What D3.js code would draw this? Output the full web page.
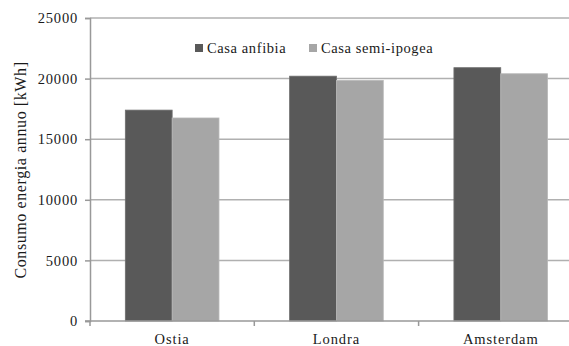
<!DOCTYPE html>
<html>
<head>
<meta charset="utf-8">
<script src="https://cdn.jsdelivr.net/npm/d3@7"></script>
<style>
  html, body { margin: 0; padding: 0; background: #fff; }
  svg { display: block; }
  svg text { font-family: "Liberation Serif", "DejaVu Serif", serif !important; fill: #1a1a1a; }
</style>
</head>
<body>
<svg id="chart" width="569" height="346" font-family="Liberation Serif"></svg>
<script>
const cities = ["Ostia", "Londra", "Amsterdam"];
const seriesNames = ["Casa anfibia", "Casa semi-ipogea"];
const anfibia = [17400, 20200, 20900];
const semiIpogea = [16750, 19850, 20400];
const yTicks = [0, 5000, 10000, 15000, 20000, 25000];
const colors = ["#595959", "#a6a6a6"];

const svg = d3.select("#chart");
const margin = { left: 90, top: 18, bottom: 25 };
const height = 346;
const bandW = 164.3;
const serif = "'Liberation Serif', 'DejaVu Serif', serif";

const x = d3.scaleBand()
  .domain(cities)
  .range([margin.left, margin.left + bandW * cities.length])
  .paddingInner(0.43).paddingOuter(0.215);

const x1 = d3.scaleBand().domain(seriesNames).range([0, x.bandwidth()]);

const y = d3.scaleLinear().domain([0, 25000]).range([height - margin.bottom, margin.top]);

// horizontal gridlines
svg.append("g").selectAll("line")
  .data(yTicks.filter(d => d > 0))
  .join("line")
  .attr("x1", margin.left).attr("x2", 569)
  .attr("y1", d => y(d)).attr("y2", d => y(d))
  .attr("stroke", "#b0b0b0").attr("stroke-width", 1.5);

// bars
const rows = cities.map((c, i) => ({ city: c, values: [anfibia[i], semiIpogea[i]] }));
svg.append("g").selectAll("g")
  .data(rows)
  .join("g")
  .attr("transform", d => `translate(${x(d.city)},0)`)
  .selectAll("rect")
  .data(d => d.values.map((v, j) => ({ key: seriesNames[j], v, j })))
  .join("rect")
  .attr("x", d => x1(d.key))
  .attr("width", x1.bandwidth())
  .attr("y", d => y(d.v))
  .attr("height", d => y(0) - y(d.v))
  .attr("fill", d => colors[d.j])
  .attr("stroke", d => d.j === 0 ? "#6e6e6e" : "#b8b8b8")
  .attr("stroke-width", 0.8);

// y axis
const yAxis = d3.axisLeft(y).tickValues(yTicks).tickSize(5).tickPadding(7).tickFormat(d3.format("d"));
const gy = svg.append("g").attr("transform", `translate(${margin.left},0)`).call(yAxis)
  .attr("font-family", serif);
gy.select(".domain").attr("stroke", "#999").attr("stroke-width", 1.5);
gy.selectAll(".tick line").attr("stroke", "#999").attr("stroke-width", 1.5);
gy.selectAll(".tick text").style("font-family", serif).style("font-size", "14.5px").style("letter-spacing", "0.8px").attr("fill", "#1a1a1a");

// x axis
const xAxis = d3.axisBottom(x).tickSize(0).tickPadding(13);
const gx = svg.append("g").attr("transform", `translate(0,${y(0)})`).call(xAxis)
  .attr("font-family", serif);
gx.select(".domain").remove();
gx.append("line")
  .attr("x1", margin.left - 5).attr("x2", 569)
  .attr("stroke", "#999").attr("stroke-width", 1.5);
gx.selectAll(".sep")
  .data(cities.map((c, i) => margin.left + bandW * i))
  .join("line")
  .attr("class", "sep")
  .attr("x1", d => d).attr("x2", d => d)
  .attr("y1", 0).attr("y2", 5)
  .attr("stroke", "#999").attr("stroke-width", 1.5);
gx.selectAll(".tick text").style("font-family", serif).style("font-size", "14.5px").style("letter-spacing", "0.9px").attr("fill", "#1a1a1a");

// y axis title
svg.append("text")
  .attr("transform", `translate(26,${170}) rotate(-90)`)
  .attr("text-anchor", "middle")
  .style("font-family", serif)
  .style("font-size", "16px")
  .style("letter-spacing", "0.6px")
  .text("Consumo energia annuo [kWh]");

// legend
const legendX = [195, 309];
const leg = svg.append("g").selectAll("g")
  .data(seriesNames)
  .join("g")
  .attr("transform", (d, i) => `translate(${legendX[i]},48)`);
leg.append("rect")
  .attr("x", 0).attr("y", -4).attr("width", 8).attr("height", 8)
  .attr("fill", (d, i) => colors[i]);
leg.append("text")
  .attr("x", 12).attr("y", 5)
  .style("font-family", serif)
  .style("font-size", "14.5px")
  .style("letter-spacing", "0.6px")
  .text(d => d);
</script>
</body>
</html>
